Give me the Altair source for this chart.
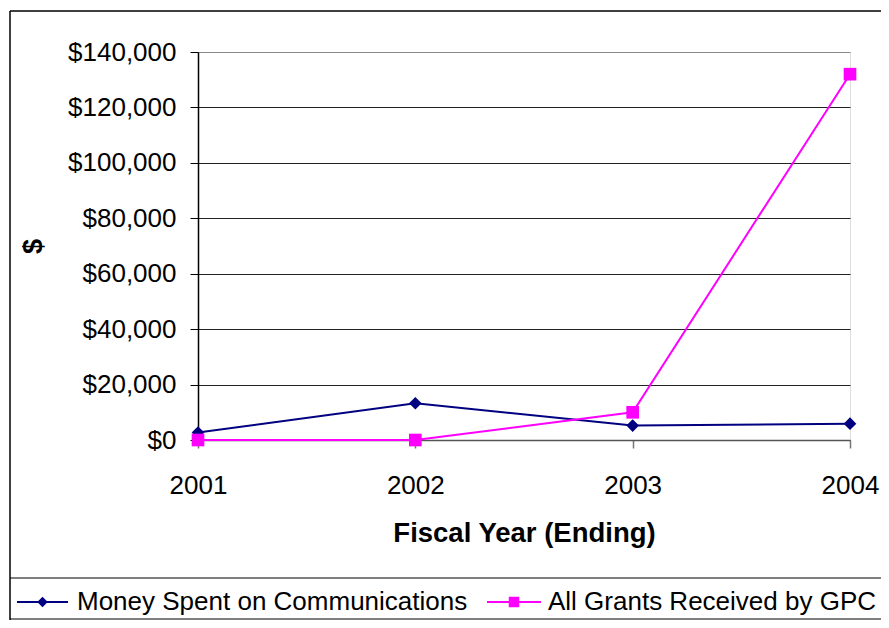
import altair as alt
import pandas as pd

years = ["2001", "2002", "2003", "2004"]
series_names = ["Money Spent on Communications", "All Grants Received by GPC"]
comms = [2700, 13250, 5200, 5900]
grants = [0, 0, 10000, 132000]
series_colors = ["#000080", "#FF00FF"]
series_shapes = ["diamond", "square"]
y_ticks = [0, 20000, 40000, 60000, 80000, 100000, 120000, 140000]

rows = []
for s, vals in zip(series_names, [comms, grants]):
    for yr, v in zip(years, vals):
        rows.append({"Year": yr, "Series": s, "Value": v})
df = pd.DataFrame(rows)

FONT = "Liberation Sans"
W, H = 652, 388

x_enc = alt.X("Year:O", scale=alt.Scale(type="point", padding=0),
              axis=alt.Axis(title="Fiscal Year (Ending)", labelAngle=0, labelFontSize=26,
                            labelFont=FONT, labelColor="black", labelBaseline="middle",
                            labelPadding=37, tickSize=8, tickColor="#777", tickWidth=1.5,
                            domainColor="#555", domainWidth=1.5, grid=False,
                            titleFontSize=27.5, titleFont=FONT, titleFontWeight="bold",
                            titleColor="black", titleY=93, titleBaseline="middle"))
y_enc = alt.Y("Value:Q", scale=alt.Scale(domain=[0, 140000], nice=False),
              axis=alt.Axis(title="$", values=y_ticks, format="$,.0f", labelFontSize=26,
                            labelFont=FONT, labelColor="black", labelPadding=14,
                            tickSize=8, tickColor="black", domainColor="black",
                            domainWidth=1.5, grid=True,
                            gridColor={"condition": {"test": "datum.value === 140000", "value": "#888"}, "value": "#222"},
                            gridWidth=1.2,
                            titleFontSize=27, titleFont=FONT, titleFontWeight="bold",
                            titleColor="black", titleAngle=-90, titleX=-165, titleY=194,
                            titleAlign="center", titleBaseline="middle"))
color_enc = alt.Color("Series:N", scale=alt.Scale(domain=series_names, range=series_colors), legend=None)

lines = alt.Chart(df).mark_line(strokeWidth=2).encode(x=x_enc, y=y_enc, color=color_enc)
points = alt.Chart(df).mark_point(filled=True, size=160, opacity=1).encode(
    x="Year:O", y="Value:Q", color=color_enc,
    shape=alt.Shape("Series:N", scale=alt.Scale(domain=series_names, range=series_shapes), legend=None),
)

one = alt.Data(values=[{"a": 1}])

def hline(x1, x2, y, color="black", w=1.5):
    return alt.Chart(one).mark_rule(color=color, strokeWidth=w).encode(
        x=alt.value(x1), x2=alt.value(x2), y=alt.value(y))

def vline(x, y1, y2, color="black", w=1.5):
    return alt.Chart(one).mark_rule(color=color, strokeWidth=w).encode(
        x=alt.value(x), y=alt.value(y1), y2=alt.value(y2))

frame = [
    hline(-188, 700, -41),          # outer border top
    vline(-188, -41, 580),          # outer border left
    hline(-188, 700, 526, w=1.2),   # legend box top
    hline(-188, 700, 567, w=1.2),   # legend box bottom
]

leg_layers = []
leg_line_x = [(-181, -130), (289, 343)]
leg_text_x = [-121, 350]
for i in range(2):
    x1, x2 = leg_line_x[i]
    leg_layers.append(hline(x1, x2, 550, color=series_colors[i], w=2))
    leg_layers.append(alt.Chart(one).mark_point(filled=True, size=110, opacity=1,
                                                 color=series_colors[i], shape=series_shapes[i]).encode(
        x=alt.value((x1 + x2) / 2), y=alt.value(550)))
    leg_layers.append(alt.Chart(one).mark_text(align="left", baseline="middle", fontSize=26,
                                                font=FONT, color="black").encode(
        x=alt.value(leg_text_x[i]), y=alt.value(550), text=alt.value(series_names[i])))

chart = alt.layer(*frame, lines, points, *leg_layers).properties(
    width=W, height=H,
    autosize=alt.AutoSizeParams(type="none"),
    padding={"left": 190, "top": 44, "right": 31, "bottom": 180},
).configure_view(stroke="#888", strokeWidth=1.5).configure(background="white")

chart.save("out.html", embed_options={"renderer": "svg", "actions": False})
